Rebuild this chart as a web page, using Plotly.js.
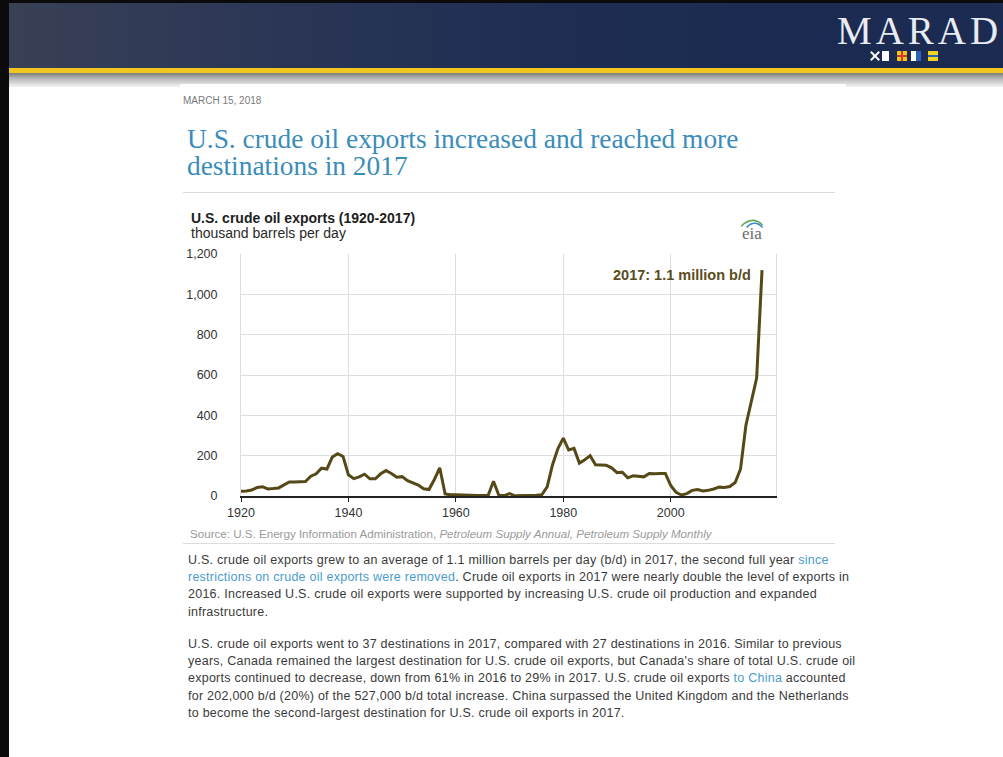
<!DOCTYPE html>
<html>
<head>
<meta charset="utf-8">
<script src="https://cdn.plot.ly/plotly-3.0.1.min.js"></script>
<style>
  html, body { margin:0; padding:0; width:1003px; height:757px; overflow:hidden; background:#fff; font-family:"Liberation Sans", Arial, sans-serif; }
  #slide { position:absolute; left:0; top:0; width:1003px; height:757px; background:#fff; }
  #header { position:absolute; left:0; top:0; width:1003px; height:68px;
    background: linear-gradient(90deg, #3a4156 0%, #2c3756 25%, #1f2d52 55%, #1b2a50 80%, #1c2b52 100%); }
  #topline { position:absolute; left:0; top:0; width:1003px; height:3px; background:#0b0b0b; }
  #leftline { position:absolute; left:0; top:0; width:9px; height:757px; background:#0b0b0b; }
  #yellow { position:absolute; left:9px; top:68px; width:994px; height:5px; background:#f1c61e; }
  #shadow { position:absolute; left:9px; top:73px; width:994px; height:14px; background:linear-gradient(180deg,#7d7d7d 0%, #b8b8b8 40%, #f4f4f4 100%); }
  #marad { position:absolute; left:837px; top:16px; line-height:30px; height:30px; font-family:"Liberation Serif","DejaVu Serif",serif; font-size:39px; color:#e9ebf2; letter-spacing:4px; white-space:nowrap; }
  #flags { position:absolute; left:870px; top:51px; height:10px; }
  #flags span { position:absolute; top:0; height:10px; width:10px; }
  #flags .xbar { width:12px; height:2px; top:4px; left:-1px; background:#fff; }
  #panel { position:absolute; left:180px; top:84px; width:666px; height:673px; background:#fff; }
  #date { position:absolute; left:183px; top:95px; font-size:10px; color:#7a7a7a; }
  #title { position:absolute; left:187px; top:126px; font-family:"Liberation Serif","DejaVu Serif",serif; font-size:27.4px; line-height:27px; color:#3a8cbb; white-space:nowrap; }
  .rule { position:absolute; left:183px; width:652px; height:1px; background:#dcdcdc; }
  #chart { position:absolute; left:180px; top:200px; width:610px; height:345px; }
  .para { position:absolute; left:188px; font-size:12.5px; letter-spacing:0.25px; line-height:17.2px; color:#3a3a3a; white-space:nowrap; }
  .para a { color:#4a9bcc; text-decoration:none; }
</style>
</head>
<body>
<div id="slide">
  <div id="header"></div>
  <div id="topline"></div>
  <div id="yellow"></div>
  <div id="shadow"></div>
  <div id="leftline"></div>
  <div id="marad">MARAD</div>
  <div id="flags">
    <span class="xbar" style="transform:rotate(45deg);"></span>
    <span class="xbar" style="transform:rotate(-45deg);"></span>
    <span style="left:12px;background:#fff;width:7px;"></span>
    <span style="left:27px;background:#f1c61e;"></span>
    <span style="left:31px;width:2px;background:#d43a2a;"></span>
    <span style="left:27px;top:4px;height:2px;background:#d43a2a;"></span>
    <span style="left:41px;background:#ffffff;width:5px;"></span>
    <span style="left:46px;background:#2a62b8;width:5px;"></span>
    <span style="left:58px;background:#f1d21e;height:4px;"></span>
    <span style="left:58px;top:4px;background:#2a62b8;height:2px;"></span>
    <span style="left:58px;top:6px;background:#f1d21e;height:4px;"></span>
  </div>
  <div id="panel"></div>
  <div id="date">MARCH 15, 2018</div>
  <div id="title">U.S. crude oil exports increased and reached more<br>destinations in 2017</div>
  <div class="rule" style="top:192px;"></div>
  <div id="chart"></div>
  <div class="rule" style="top:543px;"></div>
  <div class="para" style="top:552px;">
    U.S. crude oil exports grew to an average of 1.1 million barrels per day (b/d) in 2017, the second full year <a>since</a><br>
    <a>restrictions on crude oil exports were removed</a>. Crude oil exports in 2017 were nearly double the level of exports in<br>
    2016. Increased U.S. crude oil exports were supported by increasing U.S. crude oil production and expanded<br>
    infrastructure.
  </div>
  <div class="para" style="top:636px;">
    U.S. crude oil exports went to 37 destinations in 2017, compared with 27 destinations in 2016. Similar to previous<br>
    years, Canada remained the largest destination for U.S. crude oil exports, but Canada's share of total U.S. crude oil<br>
    exports continued to decrease, down from 61% in 2016 to 29% in 2017. U.S. crude oil exports <a>to China</a> accounted<br>
    for 202,000 b/d (20%) of the 527,000 b/d total increase. China surpassed the United Kingdom and the Netherlands<br>
    to become the second-largest destination for U.S. crude oil exports in 2017.
  </div>
</div>
<script>
// U.S. crude oil exports, thousand barrels per day, annual 1920-2017
const years = [];
for (let y = 1920; y <= 2017; y++) years.push(y);
const exportsKbd = [
  24, 25, 30, 42, 46, 35, 37, 40, 55, 70,      // 1920s
  70, 70, 72, 98, 110, 138, 134, 193, 210, 196, // 1930s
  105, 86, 95, 108, 85, 85, 110, 126, 112, 93,  // 1940s
  96, 76, 66, 54, 36, 32, 82, 140, 10, 6,       // 1950s
  6, 6, 4, 3, 3, 2, 2, 73, 4, 2,                // 1960s
  12, 1, 1, 1, 2, 4, 6, 45, 155, 235,           // 1970s
  287, 228, 236, 163, 180, 200, 155, 155, 152, 140, // 1980s
  116, 118, 90, 100, 99, 95, 112, 110, 112, 112, // 1990s
  52, 18, 5, 12, 28, 32, 25, 28, 35, 44,        // 2000s
  42, 47, 67, 134, 351, 465, 585, 1120          // 2010s
];
const yTicks = [0, 200, 400, 600, 800, 1000, 1200];
const xTicks = [1920, 1940, 1960, 1980, 2000];
const chartTitle = "U.S. crude oil exports (1920-2017)";
const chartUnits = "thousand barrels per day";
const calloutText = "2017: 1.1 million b/d";
const sourceText = "Source: U.S. Energy Information Administration, <i>Petroleum Supply Annual, Petroleum Supply Monthly</i>";

const font = "Liberation Sans, Arial, sans-serif";
const trace = {
  x: years, y: exportsKbd, type: "scatter", mode: "lines",
  line: { color: "#564918", width: 3, shape: "linear" },
  hoverinfo: "skip"
};
const layout = {
  width: 610, height: 345,
  margin: { l: 61, r: 14, t: 54, b: 49 },
  paper_bgcolor: "rgba(0,0,0,0)", plot_bgcolor: "#fff",
  showlegend: false,
  font: { family: font, color: "#333", size: 12 },
  xaxis: {
    range: [1920, 2019.6], tickvals: xTicks, ticktext: xTicks.map(String),
    showgrid: true, gridcolor: "#dedede", gridwidth: 1,
    showline: true, linecolor: "#222", linewidth: 1.5,
    ticks: "outside", ticklen: 4, tickcolor: "#222",
    zeroline: false, tickfont: { size: 12.5, color: "#333", family: font }
  },
  yaxis: {
    range: [0, 1200], tickvals: yTicks, ticktext: yTicks.map(v => v.toLocaleString("en-US")),
    showgrid: true, gridcolor: "#dedede", gridwidth: 1,
    showline: true, linecolor: "#dedede", linewidth: 1, mirror: true,
    ticks: "outside", ticklen: 20, tickcolor: "rgba(0,0,0,0)",
    zeroline: false, tickfont: { size: 12.5, color: "#333", family: font }
  },
  annotations: [
    { xref: "paper", yref: "paper", x: -0.098, y: 1.147, xanchor: "left", yanchor: "middle",
      text: "<b>" + chartTitle + "</b>", showarrow: false, font: { size: 14, color: "#1e1e1e", family: font } },
    { xref: "paper", yref: "paper", x: -0.098, y: 1.087, xanchor: "left", yanchor: "middle",
      text: chartUnits, showarrow: false, font: { size: 14, color: "#2a2a2a", family: font } },
    { xref: "paper", yref: "paper", x: 0.955, y: 1.085, xanchor: "center", yanchor: "middle",
      text: "eia", showarrow: false, font: { size: 17, color: "#6d6d6d", family: "Liberation Serif, serif" } },
    { xref: "x", yref: "y", x: 2015.3, y: 1095, xanchor: "right", yanchor: "middle",
      text: "<b>" + calloutText + "</b>", showarrow: false, font: { size: 14.5, color: "#5a4c1c", family: font } },
    { xref: "paper", yref: "paper", x: -0.099, y: -0.157, xanchor: "left", yanchor: "middle",
      text: sourceText, showarrow: false, font: { size: 11.6, color: "#9a9a9a", family: font } }
  ],
  shapes: [
    { type: "path", xref: "paper", yref: "paper",
      path: "M 0.935 1.115 Q 0.955 1.16 0.975 1.12", line: { color: "#5aa65a", width: 1.5 } },
    { type: "path", xref: "paper", yref: "paper",
      path: "M 0.945 1.11 Q 0.96 1.145 0.975 1.11", line: { color: "#3b8cc4", width: 1.5 } }
  ]
};
Plotly.newPlot("chart", [trace], layout, { staticPlot: true, displayModeBar: false });
</script>
</body>
</html>
